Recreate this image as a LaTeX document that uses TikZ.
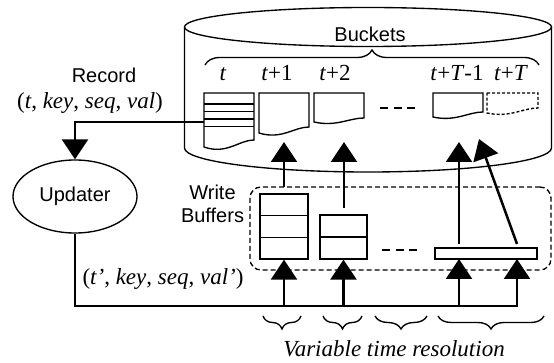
\documentclass[tikz,border=0pt]{standalone}
\usepackage{fontspec}
\setmainfont{Liberation Serif}
\setsansfont{Liberation Sans}
\usetikzlibrary{arrows.meta,decorations.pathreplacing,calc,shapes.geometric}
\newcommand{\bucketshape}[6]{\draw[#1] (#2,93) -- (#3,93) -- (#3,#5) .. controls ({#3-0.3*(#3-#2)},#5) and ({#2+0.45*(#3-#2)},{#4+#6}) .. (#2,#4) -- cycle;}
\begin{document}
\begin{tikzpicture}[x=1pt,y=-1pt,
  ln/.style={line width=1.35pt},
  sans/.style={font=\sffamily\fontsize{20}{23}\selectfont},
  serif/.style={font=\fontsize{23}{26}\selectfont},
  conn/.style={line width=2.5pt,-{Triangle[length=20pt,width=26pt]}},
  bus/.style={line width=2.5pt},
  bufbox/.style={draw,line width=1.35pt,inner sep=0pt},
  lbl/.style={inner sep=0pt,anchor=base},
  brc/.style={line width=1.35pt,decorate,decoration={brace,amplitude=#1}},
  dgap/.style={line width=1.8pt,dash pattern=on 8pt off 5.5pt},
]
\useasboundingbox (0,0) rectangle (554,363);

% cylinder (bucket store)
\draw[ln] (368,27) ellipse [x radius=183.5pt, y radius=19.5pt];
\draw[ln] (184.5,27) -- (184.5,148) arc[start angle=180,end angle=360,x radius=183.5pt,y radius=24pt] -- (551.5,27);
\node[sans,lbl] (bkt) at (370,42) {Buckets};
\draw[brc=15pt] (205,65) -- (539,65);

% bucket labels
\node[serif,lbl] (l1) at (223,81) {\textit{t}};
\node[serif,lbl] (l2) at (277,81) {\textit{t}+1};
\node[serif,lbl] (l3) at (335,81) {\textit{t}+2};
\node[serif,lbl] (l4) at (457,81) {\textit{t}+\textit{T}-1};
\node[serif,lbl] (l5) at (511,81) {\textit{t}+\textit{T}};

% buckets
\bucketshape{ln}{204}{254}{147}{140}{8}
\draw[ln] (204,104) -- (254,104);
\draw[ln] (204,111.5) -- (254,111.5);
\draw[ln] (204,119) -- (254,119);
\draw[ln] (204,126.5) -- (254,126.5);
\bucketshape{ln}{259}{309}{133}{127}{7}
\bucketshape{ln}{314}{364}{122}{118}{5}
\bucketshape{ln}{433}{483}{117}{112}{5}
\bucketshape{line width=1.35pt,dash pattern=on 3pt off 2pt}{487}{538}{113}{108}{5}
\draw[dgap] (380,108) -- (415,108);

% record
\node[sans,lbl] (rec) at (104,83) {Record};
\node[serif,lbl] (rect) at (90,109) {(\textit{t}, \textit{key}, \textit{seq}, \textit{val})};
\node[draw,ln,ellipse,minimum width=124pt,minimum height=73pt,inner sep=0pt,sans] (upd) at (75,196.5) {Updater};
\coordinate (recout) at (204,122);
\draw[conn] (recout) -| (upd.north);

% write buffers
\node[draw,ln,dash pattern=on 5pt off 3pt,rounded corners=11pt,minimum width=301pt,minimum height=83pt,inner sep=0pt] (wbuf) at (400.5,228.5) {};
\node[sans,lbl] (wl1) at (212.5,200) {Write};
\node[sans,lbl] (wl2) at (212.5,223) {Buffers};
\node[bufbox,minimum width=48pt,minimum height=65pt] (wb1) at (284,226.5) {};
\draw[ln] ($(wb1.north west)!1/3!(wb1.south west)$) -- ($(wb1.north east)!1/3!(wb1.south east)$);
\draw[ln] ($(wb1.north west)!2/3!(wb1.south west)$) -- ($(wb1.north east)!2/3!(wb1.south east)$);
\node[bufbox,minimum width=47pt,minimum height=44pt] (wb2) at (343.5,237) {};
\draw[ln] (wb2.west) -- (wb2.east);
\node[bufbox,minimum width=102pt,minimum height=11pt] (wb3) at (486,253.5) {};
\draw[dgap] (382,250) -- (417,250);

% flush arrows
\coordinate (u1s) at (284,187); \coordinate (u1t) at (284,142);
\coordinate (u2s) at (344,208); \coordinate (u2t) at (344,142);
\coordinate (u3s) at (459,244); \coordinate (u3t) at (459,142);
\coordinate (u4s) at (517,244); \coordinate (u4t) at (479,139);
\draw[conn] (u1s) -- (u1t);
\draw[conn] (u2s) -- (u2t);
\draw[conn] (u3s) -- (u3t);
\draw[conn] (u4s) -- (u4t);

% update bus
\coordinate (busL) at (75,306);
\coordinate (busR) at (518.2,306);
\coordinate (in3) at (459,259);
\coordinate (in4) at (517,259);
\draw[bus] (upd.south) -- (busL) -- (busR);
\draw[conn] (wb1.south |- busL) -- (wb1.south);
\draw[conn] (wb2.south |- busL) -- (wb2.south);
\draw[conn] (in3 |- busL) -- (in3);
\draw[conn] (in4 |- busL) -- (in4);
\node[serif,lbl] (upt) at (163,285) {(\textit{t'}, \textit{key}, \textit{seq}, \textit{val'})};

% resolution braces
\draw[brc=13pt] (301,316) -- (263,316);
\draw[brc=13pt] (362,316) -- (323,316);
\draw[brc=13pt] (427,316) -- (375,316);
\draw[brc=13pt] (544,316) -- (438,316);
\node[serif,lbl] (vtr) at (394,356) {\textit{Variable time resolution}};
\end{tikzpicture}
\end{document}
